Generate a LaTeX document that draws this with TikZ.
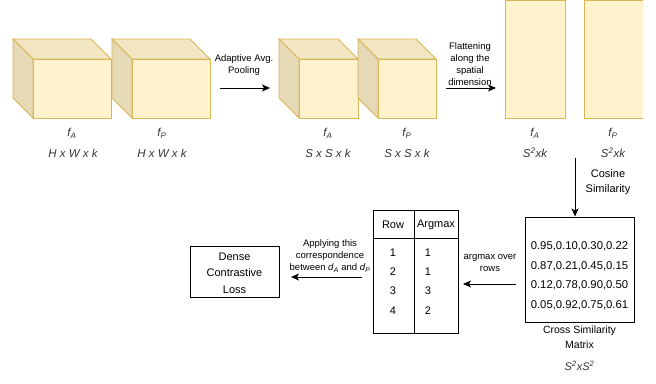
\documentclass[tikz,border=0pt]{standalone}
\usepackage{fontspec}
\setmainfont{Liberation Sans}
\usetikzlibrary{arrows.meta}
\definecolor{cubefront}{HTML}{FFF2CC}
\definecolor{cubetop}{HTML}{F3E6C2}
\definecolor{cubeside}{HTML}{E6D9B6}
\definecolor{cubeline}{HTML}{D6B656}
\definecolor{txtgray}{HTML}{333333}
\newcommand{\drawcube}[4]{%
  \filldraw[cubestroke, fill=cubefront] (#1+20,#2+20) rectangle (#3,#4);
  \filldraw[cubestroke, fill=cubetop] (#1,#2) -- (#3-20,#2) -- (#3,#2+20) -- (#1+20,#2+20) -- cycle;
  \filldraw[cubestroke, fill=cubeside] (#1,#2) -- (#1+20,#2+20) -- (#1+20,#4) -- (#1,#4-20) -- cycle;
}
\begin{document}
\begin{tikzpicture}[x=1pt,y=-1pt,
  cubestroke/.style={draw=cubeline, line width=0.9pt, line join=miter},
  arr/.style={line width=0.8pt, -{Stealth[length=8pt,width=7pt,inset=2pt]}},
  lbl/.style={font=\fontsize{9.5}{12}\selectfont, align=center, inner sep=0pt},
  dimlbl/.style={font=\fontsize{11.5}{13}\selectfont\itshape, text=txtgray, inner sep=0pt},
  maintxt/.style={font=\fontsize{11}{16.5}\selectfont, align=center, inner sep=0pt},
  boxstyle/.style={draw, line width=0.8pt, inner sep=0pt},
  mtx/.style={font=\fontsize{11.3}{19.5}\selectfont, inner sep=0pt},
]
\useasboundingbox (0,0) rectangle (656,383);

% ---- cubes ----
\drawcube{13}{39}{111}{118}
\drawcube{112}{39}{210}{118}
\drawcube{279}{39}{358}{118}
\drawcube{358}{39}{436}{118}

% ---- flattened rectangles ----
\filldraw[cubestroke, fill=cubefront] (505,0.5) rectangle (565,118);
\fill[cubefront] (584,0.5) rectangle (643,118);
\draw[cubestroke] (643,0.5) -- (584,0.5) -- (584,118) -- (643,118);

% ---- labels under cubes ----
\node[dimlbl] (fa1) at (72,133) {f\textsubscript{A}};
\node[dimlbl] (da1) at (73,153) {H x W x k};
\node[dimlbl] (fp1) at (162,133) {f\textsubscript{P}};
\node[dimlbl] (dp1) at (162,153) {H x W x k};
\node[dimlbl] (fa2) at (328,133) {f\textsubscript{A}};
\node[dimlbl] (da2) at (328,153) {S x S x k};
\node[dimlbl] (fp2) at (407,133) {f\textsubscript{P}};
\node[dimlbl] (dp2) at (407,153) {S x S x k};
\node[dimlbl] (fa3) at (535,133) {f\textsubscript{A}};
\node[dimlbl] (da3) at (535,153) {S\textsuperscript{2}xk};
\node[dimlbl] (fp3) at (613,133) {f\textsubscript{P}};
\node[dimlbl] (dp3) at (613,153) {S\textsuperscript{2}xk};

% ---- pooling arrow ----
\node[lbl] (pooltxt) at (244,65) {Adaptive Avg.\\Pooling};
\coordinate (pa) at (220,88);
\coordinate (pb) at (270,88);
\draw[arr] (pa) -- (pb);

% ---- flattening arrow ----
\node[lbl] (flattxt) at (470,64.5) {Flattening\\along the\\spatial\\dimension};
\coordinate (fa) at (446,88);
\coordinate (fb) at (496,88);
\draw[arr] (fa) -- (fb);

% ---- cross similarity matrix ----
\node[boxstyle, minimum width=109pt, minimum height=105pt] (mat) at (579.5,269.5) {};
\node[mtx, align=center] (mattxt) at (579.5,276) {0.95,0.10,0.30,0.22\\0.87,0.21,0.45,0.15\\0.12,0.78,0.90,0.50\\0.05,0.92,0.75,0.61};
\node[maintxt, font=\fontsize{10.5}{15.5}\selectfont] (matlbl) at (579.5,337) {Cross Similarity\\Matrix};
\node[dimlbl, font=\fontsize{11}{13}\selectfont\itshape] (matdim) at (579.5,366) {S\textsuperscript{2}xS\textsuperscript{2}};

% ---- cosine arrow ----
\coordinate (ca) at (575,158);
\draw[arr] (ca) -- (575,216.5);
\node[maintxt, font=\fontsize{11}{15}\selectfont] (costxt) at (608,182.5) {Cosine\\Similarity};

% ---- table ----
\draw[line width=0.8pt] (373,210) rectangle (458,333);
\draw[line width=0.8pt] (414,210) -- (414,333);
\draw[line width=0.8pt] (373,238) -- (458,238);
\node[maintxt] (hrow) at (393,225) {Row};
\node[maintxt] (harg) at (436,225) {Argmax};
\node[maintxt] (r1) at (393,253) {1};
\node[maintxt] (r2) at (393,272) {2};
\node[maintxt] (r3) at (393,291) {3};
\node[maintxt] (r4) at (393,311) {4};
\node[maintxt] (a1) at (428,253) {1};
\node[maintxt] (a2) at (428,272) {1};
\node[maintxt] (a3) at (428,291) {3};
\node[maintxt] (a4) at (428,311) {2};

% ---- argmax arrow ----
\coordinate (aa) at (516,284);
\coordinate (ab) at (463,284);
\draw[arr] (aa) -- (ab);
\node[lbl] (argtxt) at (490,263) {argmax over\\rows};

% ---- dense contrastive loss ----
\node[boxstyle, minimum width=89pt, minimum height=51pt] (loss) at (234.5,272) {};
\node[maintxt] (losstxt) at (234.5,273) {Dense\\Contrastive\\Loss};

% ---- applying arrow ----
\coordinate (ya) at (362,277);
\coordinate (yb) at (291,277);
\draw[arr] (ya) -- (yb);
\node[lbl] (applytxt) at (330,256) {Applying this\\correspondence\\between \textit{d}\textsubscript{\textit{A}} and \textit{d}\textsubscript{\textit{P}}};
\end{tikzpicture}
\end{document}
